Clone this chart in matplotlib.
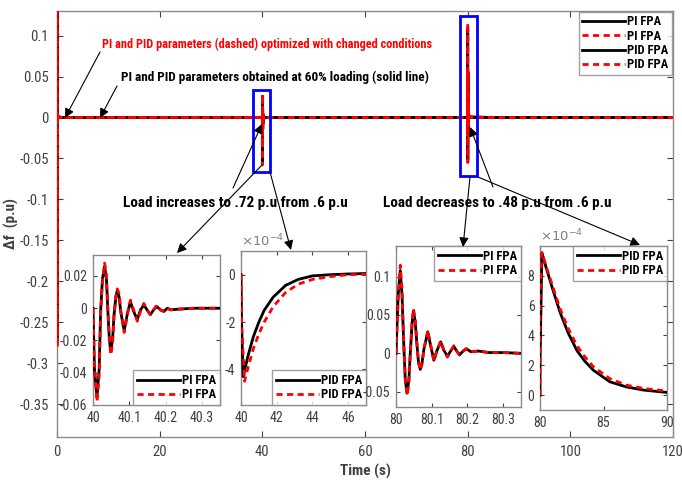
import matplotlib.pyplot as plt
from matplotlib import font_manager
from matplotlib.patches import Rectangle, FancyArrowPatch

# pick a narrow sans font if one is installed
_have = {f.name for f in font_manager.fontManager.ttflist}
_pref = ['Liberation Sans Narrow', 'Arial Narrow', 'Roboto Condensed', 'PT Sans Narrow',
         'Archivo Narrow', 'Liberation Sans']
_fam = [f for f in _pref if f in _have][:1] + ['DejaVu Sans']
plt.rcParams['font.family'] = _fam

# ---- data ----
# start-up transient at t = 0 (main axes only)
t_start = [0, 0.01, 0.03, 0.06, 0.1, 0.3, 1.0]
pi_sol_start = [0, 0.2, -0.27, 0.004, 0.002, 0.001, 0]
pi_opt_start = [0, 0.2, -0.28, 0.005, 0.002, 0.001, 0]
pid_sol_start = [0, 0.2, -0.27, 0.003, 0.001, 0.0, 0]
pid_opt_start = [0, 0.2, -0.28, 0.003, 0.001, 0.0, 0]

# PI, load step up at t = 40 s
t_pi_up = [40.000, 40.004, 40.011, 40.017, 40.021, 40.026, 40.032, 40.037, 40.041,
           40.045, 40.049, 40.054, 40.058, 40.063, 40.067, 40.072, 40.077,
           40.086, 40.095, 40.103, 40.112, 40.122, 40.131, 40.140, 40.149, 40.158,
           40.167, 40.176, 40.186, 40.195, 40.205, 40.214, 40.24, 40.28, 40.35]
pi_sol_up = [0, -0.038, -0.055, -0.038, -0.002, 0.018, 0.026, 0.018, -0.002,
             -0.019, -0.027, -0.019, -0.004, 0.007, 0.011, 0.007, -0.003,
             -0.014, -0.003, 0.004, -0.002, -0.007, -0.001, 0.002, -0.001, -0.004,
             -0.001, 0.001, -0.001, -0.002, 0, -0.001, -0.0005, 0, 0]
pi_opt_up = [0, -0.036, -0.058, -0.042, -0.004, 0.017, 0.028, 0.021, -0.001,
             -0.018, -0.029, -0.022, -0.005, 0.007, 0.012, 0.009, -0.002,
             -0.015, -0.004, 0.005, -0.001, -0.008, -0.002, 0.003, -0.001, -0.004,
             -0.001, 0.002, -0.001, -0.002, 0, -0.001, -0.0005, 0, 0]

# PID, load step up at t = 40 s (x 1e-4)
t_pid_up = [40, 40.03, 40.12, 40.4, 40.7, 41.0, 41.3, 41.8, 42.5, 43.2, 44.0, 45.0, 46.0, 47.0]
pid_sol_up = [0, -2.0, -4.3, -3.4, -2.6, -2.0, -1.5, -0.95, -0.45, -0.2, -0.05, 0.0, 0.03, 0.05]
t_pid_up_opt = [40, 40.03, 40.2, 40.4, 40.7, 41.0, 41.3, 41.8, 42.5, 43.2, 44.0, 45.0, 46.0, 47.0]
pid_opt_up = [0, -2.0, -4.5, -3.9, -3.1, -2.5, -2.0, -1.35, -0.75, -0.4, -0.2, -0.08, 0.0, 0.02]

# PI, load step down at t = 80 s
t_pi_dn = [80.000, 80.006, 80.012, 80.017, 80.021, 80.026, 80.031, 80.036, 80.040,
           80.045, 80.049, 80.054, 80.058, 80.063, 80.068, 80.073, 80.078,
           80.089, 80.097, 80.106, 80.115, 80.125, 80.134, 80.144, 80.153, 80.162,
           80.170, 80.178, 80.188, 80.197, 80.21, 80.23, 80.26, 80.30, 80.35]
pi_sol_dn = [0, 0.075, 0.108, 0.075, 0.02, -0.035, -0.052, -0.035, 0.0,
             0.04, 0.055, 0.04, 0.015, -0.012, -0.021, -0.012, 0.005,
             0.028, 0.01, -0.009, 0.004, 0.015, 0.004, -0.004, 0.003, 0.009,
             0.003, -0.002, 0.003, 0.006, 0.002, 0.003, 0.001, 0.001, 0]
pi_opt_dn = [0, 0.07, 0.115, 0.082, 0.022, -0.033, -0.055, -0.04, 0.001,
             0.038, 0.058, 0.044, 0.016, -0.011, -0.022, -0.014, 0.005,
             0.030, 0.011, -0.010, 0.004, 0.016, 0.004, -0.005, 0.003, 0.010,
             0.003, -0.002, 0.003, 0.006, 0.002, 0.003, 0.001, 0.001, 0]

# PID, load step down at t = 80 s (x 1e-4)
t_pid_dn = [80, 80.0, 80.15, 80.5, 81.0, 81.58, 82.2, 82.9, 83.5, 84.2, 85.5, 86.8, 88.2, 90.0]
pid_sol_dn = [0, 2.0, 9.55, 8.5, 7.1, 5.55, 4.2, 3.0, 2.3, 1.67, 0.89, 0.55, 0.33, 0.18]
pid_opt_dn = [0, 6.5, 9.55, 8.6, 7.3, 5.8, 4.5, 3.33, 2.6, 1.9, 1.1, 0.67, 0.44, 0.27]

x_ticks = [0, 20, 40, 60, 80, 100, 120]
y_ticks = [0.1, 0.05, 0, -0.05, -0.1, -0.15, -0.2, -0.25, -0.3, -0.35]
y_tick_labels = ['0.1', '0.05', '0', '-0.05', '-0.1', '-0.15', '-0.2', '-0.25', '-0.3', '-0.35']
legend_labels = ['PI FPA', 'PI FPA', 'PID FPA', 'PID FPA']

W, H = 682, 483
TXT = '#404040'
EDGE = '#8a8a8a'
DASH = (0, (2.2, 1.6))


def rect(l, t, r, b):
    return [l / W, 1 - b / H, (r - l) / W, (b - t) / H]


def fp(x, y):
    return (x / W, 1 - y / H)


def style(ax):
    ax.tick_params(direction='in', top=True, right=True, labelsize=10,
                   colors=TXT, length=4, width=0.8, pad=4)
    for s in ax.spines.values():
        s.set_color(EDGE)
        s.set_linewidth(1.0)


def make_legend(ax, loc, pad):
    lg = ax.legend(loc=loc, handlelength=3.4, handletextpad=0.2, labelspacing=0.1,
                   borderpad=0.3, borderaxespad=pad, fancybox=False,
                   prop={'weight': 'bold', 'size': 9})
    lg.get_frame().set_edgecolor(EDGE)
    lg.get_frame().set_linewidth(1.0)
    return lg


fig = plt.figure(figsize=(W / 100, H / 100), dpi=100)

# ---- main axes ----
ax = fig.add_axes(rect(57, 11, 673, 437))
t_pi_main = t_start + t_pi_up + t_pi_dn + [120]
t_pid_main = t_start + t_pid_up + t_pid_dn + [120]
ax.plot(t_pi_main, pi_sol_start + pi_sol_up + pi_sol_dn + [0], color='black', lw=2,
        label=legend_labels[0], zorder=3)
ax.plot(t_pi_main, pi_opt_start + pi_opt_up + pi_opt_dn + [0], color='red', lw=2,
        ls=DASH, label=legend_labels[1], zorder=4)
ax.plot(t_pid_main, pid_sol_start + [v * 1e-4 for v in pid_sol_up + pid_sol_dn] + [0],
        color='black', lw=2, label=legend_labels[2], zorder=3)
ax.plot(t_pid_main, pid_opt_start + [v * 1e-4 for v in pid_opt_up + pid_opt_dn] + [0],
        color='red', lw=2, ls=DASH, label=legend_labels[3], zorder=4)
ax.set_xlim(0, 120)
ax.set_ylim(-0.39, 0.13)
ax.set_xticks(x_ticks)
ax.set_yticks(y_ticks)
ax.set_yticklabels(y_tick_labels)
style(ax)
ax.tick_params(labelsize=10.5, pad=6)
ax.set_xlabel('Time (s)', fontsize=11, fontweight='bold', color=TXT, labelpad=3)
ax.set_ylabel('\u0394f  (p.u)', fontsize=11, fontweight='bold', color=TXT)
ax.yaxis.set_label_coords(-0.062, 0.5)
make_legend(ax, 'upper right', 0.05)

ax.add_patch(Rectangle((38.2, -0.067), 3.3, 0.1, fill=False, ec='blue', lw=2, zorder=5))
ax.add_patch(Rectangle((78.6, -0.072), 3.3, 0.196, fill=False, ec='blue', lw=2, zorder=5))


# ---- insets ----
def inset(r, t1, y1, t2, y2, labs, xlim, ylim, xt, xtl, yt, ytl, loc, exp=False):
    a = fig.add_axes(rect(*r))
    a.plot(t1, y1, color='black', lw=2, label=labs[0], zorder=3)
    a.plot(t2, y2, color='red', lw=2, ls=DASH, label=labs[1], zorder=4)
    a.set_xlim(*xlim)
    a.set_ylim(*ylim)
    a.set_xticks(xt)
    a.set_xticklabels(xtl)
    a.set_yticks(yt)
    a.set_yticklabels(ytl)
    style(a)
    a.tick_params(length=3)
    make_legend(a, loc, 0.0)
    if exp:
        a.text(0.0, 1.01, r'$\times10^{-4}$', transform=a.transAxes, fontsize=9.5,
               color='#808080', ha='left', va='bottom')
    return a


inset((93, 255, 220, 405), t_pi_up, pi_sol_up, t_pi_up, pi_opt_up, legend_labels[:2],
      (40, 40.35), (-0.06, 0.033), [40, 40.1, 40.2, 40.3], ['40', '40.1', '40.2', '40.3'],
      [0.02, 0, -0.02, -0.04, -0.06], ['0.02', '0', '-0.02', '-0.04', '-0.06'], 'lower right')
inset((241, 251, 366, 405), t_pid_up, pid_sol_up, t_pid_up_opt, pid_opt_up, legend_labels[2:],
      (40, 47), (-5.5, 1.0), [40, 42, 44, 46], ['40', '42', '44', '46'],
      [0, -2, -4], ['0', '-2', '-4'], 'lower right', exp=True)
inset((396, 246, 521, 407), t_pi_dn, pi_sol_dn, t_pi_dn, pi_opt_dn, legend_labels[:2],
      (80, 80.35), (-0.07, 0.14), [80, 80.1, 80.2, 80.3], ['80', '80.1', '80.2', '80.3'],
      [0.1, 0.05, 0, -0.05], ['0.1', '0.05', '0', '-0.05'], 'upper right')
inset((540, 246, 667, 410), t_pid_dn, pid_sol_dn, t_pid_dn, pid_opt_dn, legend_labels[2:],
      (80, 90), (-1, 10), [80, 85, 90], ['80', '85', '90'],
      [0, 2, 4, 6, 8], ['0', '2', '4', '6', '8'], 'upper right', exp=True)

# ---- annotations ----
fig.text(*fp(102, 44), 'PI and PID parameters (dashed) optimized with changed conditions',
         color='red', fontsize=8.8, fontweight='bold', va='center')
fig.text(*fp(121, 77), 'PI and PID parameters obtained at 60% loading (solid line)',
         color='black', fontsize=9.5, fontweight='bold', va='center')
fig.text(*fp(123, 203), 'Load increases to .72 p.u from .6 p.u',
         color='black', fontsize=11, fontweight='bold', va='center')
fig.text(*fp(383, 203), 'Load decreases to .48 p.u from .6 p.u',
         color='black', fontsize=11, fontweight='bold', va='center')

arrows = [((100, 52), (65, 118)), ((117, 86), (100, 118)),
          ((233, 188), (262, 124)), ((262, 165), (177, 253)), ((270, 172), (291, 250)),
          ((493, 187), (470, 127)), ((470, 177), (463, 247)), ((478, 177), (640, 245))]
for tail, head in arrows:
    fig.add_artist(FancyArrowPatch(
        fp(*tail), fp(*head), transform=fig.transFigure, arrowstyle='-|>',
        mutation_scale=14, lw=0.8, color='black', shrinkA=0, shrinkB=0, zorder=10))

fig.savefig('out.png', dpi=100)
